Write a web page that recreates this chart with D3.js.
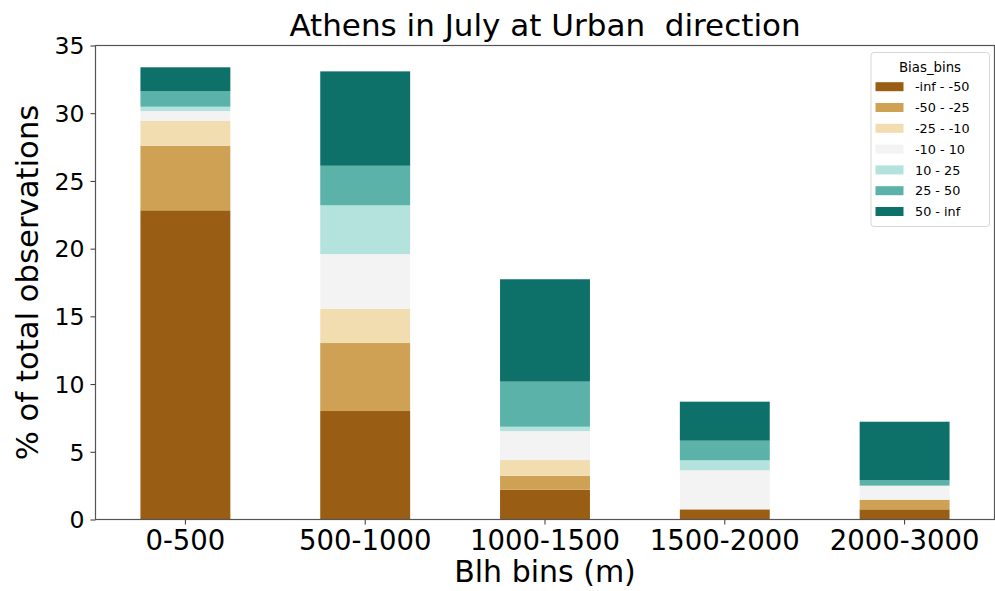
<!DOCTYPE html>
<html>
<head>
<meta charset="utf-8">
<script src="https://cdn.jsdelivr.net/npm/d3@7"></script>
<style>
  html, body { margin: 0; padding: 0; background: #fff; }
  svg { display: block; font-family: "DejaVu Sans", sans-serif; }
</style>
</head>
<body>
<svg id="chart" width="995" height="591"></svg>
<script>
// Boundary-layer-height bins on the x axis
const categories = ["0-500", "500-1000", "1000-1500", "1500-2000", "2000-3000"];

// Bias bins (stack order, bottom to top)
const biasBins = ["-inf - -50", "-50 - -25", "-25 - -10", "-10 - 10", "10 - 25", "25 - 50", "50 - inf"];
const binColors = ["#995d13", "#cfa155", "#f2ddb1", "#f2f3f2", "#b4e2dc", "#5ab2a8", "#0e7169"];

// % of total observations per bias bin, one value per BLH bin
const negInfTo50 = [22.83, 8.01, 2.20, 0.75, 0.75];
const neg50To25  = [4.77, 5.02, 1.03, 0.00, 0.71];
const neg25To10  = [1.85, 2.54, 1.16, 0.00, 0.00];
const neg10To10  = [0.71, 4.03, 2.14, 2.88, 1.04];
const pos10To25  = [0.32, 3.60, 0.32, 0.74, 0.00];
const pos25To50  = [1.16, 2.92, 3.33, 1.45, 0.39];
const pos50ToInf = [1.75, 6.97, 7.56, 2.88, 4.33];

const yTicks = [0, 5, 10, 15, 20, 25, 30, 35];

const seriesValues = [negInfTo50, neg50To25, neg25To10, neg10To10, pos10To25, pos25To50, pos50ToInf];

const rows = categories.map((c, i) => {
  const r = { cat: c };
  biasBins.forEach((b, k) => { r[b] = seriesValues[k][i]; });
  return r;
});

const svg = d3.select("#chart");
const plotLeft = 95.5, plotRight = 994.5, plotTop = 45.5, plotBottom = 519.5;

const x = d3.scaleBand().domain(categories).range([plotLeft, plotRight])
  .paddingInner(0.5).paddingOuter(0.25);
const y = d3.scaleLinear().domain([0, 35]).range([plotBottom, plotTop]);
const color = d3.scaleOrdinal().domain(biasBins).range(binColors);

const stacked = d3.stack().keys(biasBins)(rows);

// Stacked bars
svg.append("g").selectAll("g").data(stacked).join("g")
  .attr("fill", d => color(d.key))
  .selectAll("rect").data(d => d).join("rect")
  .attr("x", d => x(d.data.cat))
  .attr("width", x.bandwidth())
  .attr("y", d => y(d[1]))
  .attr("height", d => y(d[0]) - y(d[1]));

// Axes
const xAxis = svg.append("g").attr("transform", `translate(0,${plotBottom})`)
  .call(d3.axisBottom(x).tickSize(5).tickPadding(6).tickSizeOuter(0));
xAxis.select(".domain").remove();
xAxis.selectAll("text").attr("font-size", 27.5).attr("fill", "#000")
  .attr("font-family", "DejaVu Sans");
xAxis.selectAll("line").attr("stroke", "#333").attr("stroke-width", 1);

const yAxis = svg.append("g").attr("transform", `translate(${plotLeft},0)`)
  .call(d3.axisLeft(y).tickValues(yTicks).tickFormat(d3.format("d")).tickSize(5).tickPadding(6).tickSizeOuter(0));
yAxis.select(".domain").remove();
yAxis.selectAll("text").attr("font-size", 23.6).attr("fill", "#000")
  .attr("font-family", "DejaVu Sans").attr("dy", "0.35em");
yAxis.selectAll("line").attr("stroke", "#333").attr("stroke-width", 1);

// Frame
svg.append("rect")
  .attr("x", plotLeft).attr("y", plotTop)
  .attr("width", plotRight - plotLeft).attr("height", plotBottom - plotTop)
  .attr("fill", "none").attr("stroke", "#555").attr("stroke-width", 1.2);

// Title
svg.append("text")
  .attr("x", (plotLeft + plotRight) / 2).attr("y", 36)
  .attr("text-anchor", "middle")
  .attr("font-size", 31)
  .style("white-space", "pre")
  .text("Athens in July at Urban  direction");

// Axis labels
svg.append("text")
  .attr("x", (plotLeft + plotRight) / 2).attr("y", 582)
  .attr("text-anchor", "middle")
  .attr("font-size", 30)
  .text("Blh bins (m)");

svg.append("text")
  .attr("transform", `translate(37.5,${(plotTop + plotBottom) / 2}) rotate(-90)`)
  .attr("text-anchor", "middle")
  .attr("font-size", 30.7)
  .text("% of total observations");

// Legend
const lg = svg.append("g");
lg.append("rect")
  .attr("x", 871).attr("y", 52.5).attr("width", 118.5).attr("height", 174)
  .attr("rx", 3).attr("fill", "#fff").attr("fill-opacity", 0.8)
  .attr("stroke", "#d6d6d6").attr("stroke-width", 1);
lg.append("text")
  .attr("x", 930).attr("y", 71.5).attr("text-anchor", "middle")
  .attr("font-size", 13.3).text("Bias_bins");
const items = lg.selectAll("g.item").data(biasBins).join("g").attr("class", "item")
  .attr("transform", (d, i) => `translate(0,${86.7 + i * 20.8})`);
items.append("rect")
  .attr("x", 875.5).attr("y", -4.5).attr("width", 28).attr("height", 9)
  .attr("fill", d => color(d));
items.append("text")
  .attr("x", 915).attr("y", 4.6).attr("font-size", 12.8)
  .style("white-space", "pre")
  .text(d => d);
</script>
</body>
</html>
